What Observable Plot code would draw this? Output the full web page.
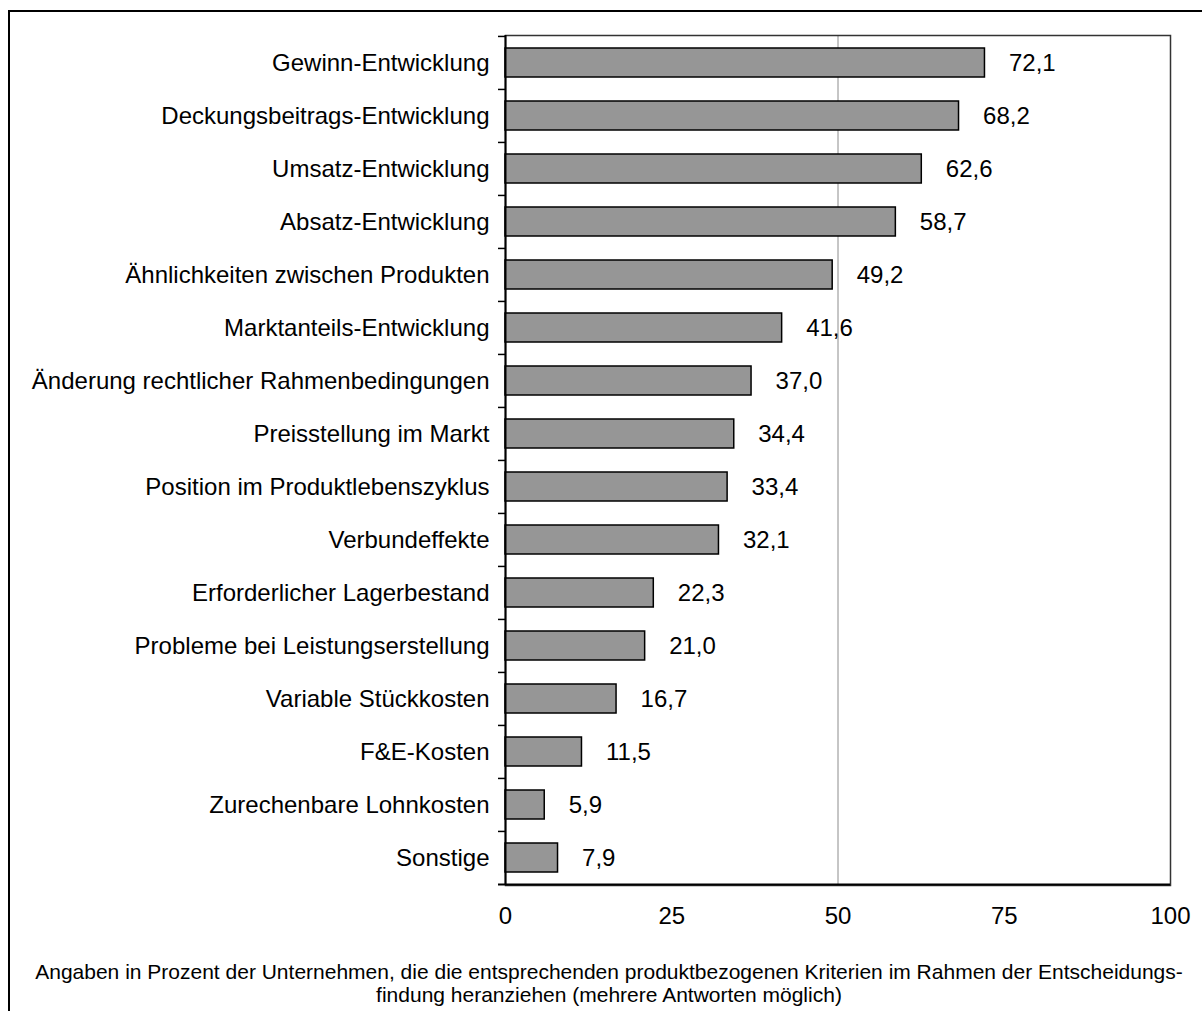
<!DOCTYPE html>
<html><head><meta charset="utf-8">
<script src="https://cdn.jsdelivr.net/npm/d3@7"></script>
<script src="https://cdn.jsdelivr.net/npm/@observablehq/plot@0.6"></script>
<style>
html,body{margin:0;padding:0;background:#fff;overflow:hidden;width:1202px;height:1011px;}
#frame{position:absolute;left:8px;top:10px;width:1400px;height:1200px;border-top:2px solid #000;border-left:2px solid #000;}
#chart{position:absolute;left:0;top:0;}
#caption{position:absolute;left:0;top:960px;width:1218px;text-align:center;font-family:"Liberation Sans",Arial,sans-serif;font-size:21px;line-height:23px;color:#000;}
</style></head>
<body>
<div id="frame"></div>
<div id="chart"></div>
<div id="caption">Angaben in Prozent der Unternehmen, die die entsprechenden produktbezogenen Kriterien im Rahmen der Entscheidungs-<br>findung heranziehen (mehrere Antworten möglich)</div>
<script>
const categories = [
  "Gewinn-Entwicklung",
  "Deckungsbeitrags-Entwicklung",
  "Umsatz-Entwicklung",
  "Absatz-Entwicklung",
  "Ähnlichkeiten zwischen Produkten",
  "Marktanteils-Entwicklung",
  "Änderung rechtlicher Rahmenbedingungen",
  "Preisstellung im Markt",
  "Position im Produktlebenszyklus",
  "Verbundeffekte",
  "Erforderlicher Lagerbestand",
  "Probleme bei Leistungserstellung",
  "Variable Stückkosten",
  "F&E-Kosten",
  "Zurechenbare Lohnkosten",
  "Sonstige"
];
const values = [72.1, 68.2, 62.6, 58.7, 49.2, 41.6, 37.0, 34.4, 33.4, 32.1, 22.3, 21.0, 16.7, 11.5, 5.9, 7.9];
const valueLabels = ["72,1","68,2","62,6","58,7","49,2","41,6","37,0","34,4","33,4","32,1","22,3","21,0","16,7","11,5","5,9","7,9"];
const xTicks = [0, 25, 50, 75, 100];

const data = categories.map((c, i) => ({category: c, value: values[i], label: valueLabels[i]}));

const marginTop = 35, marginBottom = 50, plotBottom = 885;
const height = plotBottom + marginBottom;
const step = (plotBottom - marginTop) / categories.length;
const font = "Liberation Sans, Arial, sans-serif";

const chart = Plot.plot({
  width: 1202,
  height,
  marginTop,
  marginBottom,
  marginLeft: 505,
  marginRight: 32,
  style: {fontFamily: font, color: "#000", background: "transparent"},
  x: {domain: [0, 100]},
  y: {domain: categories, paddingInner: 0.45, paddingOuter: 0.225},
  marks: [
    Plot.ruleX([50], {stroke: "#8c8c8c", strokeWidth: 1}),
    Plot.frame({stroke: "#333", strokeWidth: 1.5}),
    Plot.barX(data, {x: "value", y: "category", fill: "#969696", stroke: "#000", strokeWidth: 1.5}),
    Plot.text(data, {x: "value", y: "category", text: "label", textAnchor: "start", dx: 24, fontSize: 24, fill: "#000"}),
    Plot.ruleX([0], {stroke: "#000", strokeWidth: 2}),
    Plot.ruleY(data, {y: "category", x1: -1.05, x2: 0, dy: -step / 2, stroke: "#000", strokeWidth: 1.5}),
    Plot.ruleY([categories[categories.length - 1]], {y: d => d, x1: -1.05, x2: 100, dy: step / 2, stroke: "#000", strokeWidth: 2}),
    Plot.axisY({tickSize: 0, tickPadding: 16, fontSize: 24, label: null}),
    Plot.axisX({ticks: xTicks, tickSize: 0, tickPadding: 21, fontSize: 24, label: null, tickFormat: d => String(d)})
  ]
});
document.getElementById("chart").appendChild(chart);
</script>
</body></html>
